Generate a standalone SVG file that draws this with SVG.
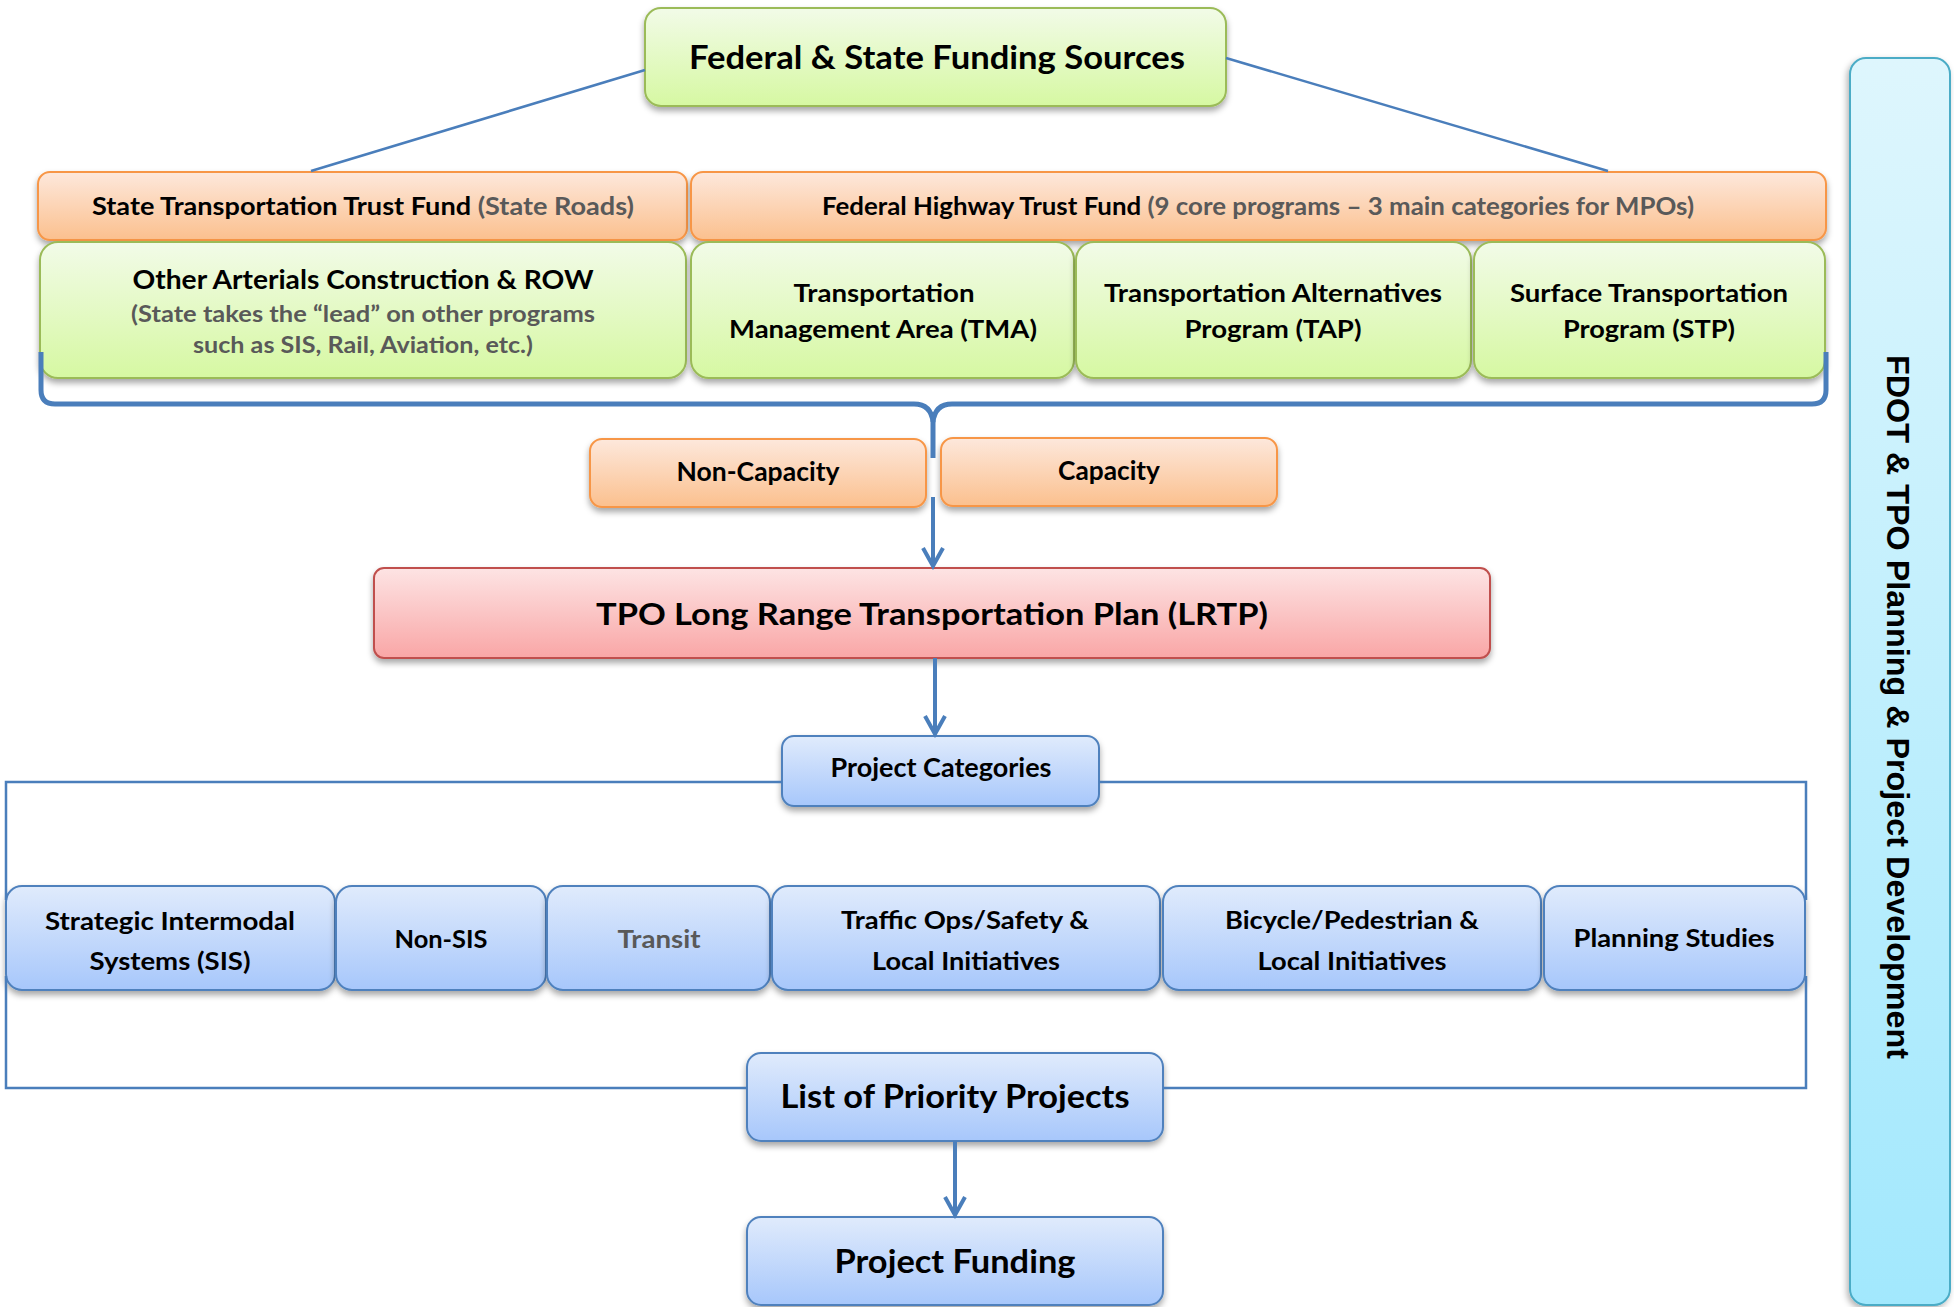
<svg xmlns="http://www.w3.org/2000/svg" width="1954" height="1307" viewBox="0 0 1954 1307">
<defs>
<linearGradient id="gGreen" x1="0" y1="0" x2="0" y2="1"><stop offset="0" stop-color="#f2fbe8"/><stop offset="1" stop-color="#d6f8a2"/></linearGradient>
<linearGradient id="gOrange" x1="0" y1="0" x2="0" y2="1"><stop offset="0" stop-color="#fde8dc"/><stop offset="1" stop-color="#fbc08e"/></linearGradient>
<linearGradient id="gBlue" x1="0" y1="0" x2="0" y2="1"><stop offset="0" stop-color="#e0ebfc"/><stop offset="1" stop-color="#a7c7fb"/></linearGradient>
<linearGradient id="gRed" x1="0" y1="0" x2="0" y2="1"><stop offset="0" stop-color="#fde4e4"/><stop offset="1" stop-color="#f9a6a6"/></linearGradient>
<linearGradient id="gCyan" x1="0" y1="0" x2="0" y2="1"><stop offset="0" stop-color="#def6fd"/><stop offset="1" stop-color="#a2e8fd"/></linearGradient>
<filter id="sh" x="-10%" y="-20%" width="120%" height="150%"><feDropShadow dx="0" dy="4" stdDeviation="3" flood-color="#000" flood-opacity="0.35"/></filter>
<filter id="shs" x="-20%" y="-5%" width="140%" height="110%"><feDropShadow dx="-2" dy="3" stdDeviation="3" flood-color="#000" flood-opacity="0.3"/></filter>
<marker id="ah" markerUnits="userSpaceOnUse" markerWidth="26" markerHeight="26" viewBox="-22 -13 26 26" refX="0" refY="0" orient="auto"><path d="M-18,-10 L0,0 L-18,10" fill="none" stroke="#4a7ebb" stroke-width="4"/></marker>
<style>
.gr{fill:url(#gGreen);stroke:#9bbb59;stroke-width:2}
.or{fill:url(#gOrange);stroke:#f79646;stroke-width:2}
.bl{fill:url(#gBlue);stroke:#4f81bd;stroke-width:2}
.rd{fill:url(#gRed);stroke:#c0504d;stroke-width:2}
.cy{fill:url(#gCyan);stroke:#4bacc6;stroke-width:2}
.t{font-family:Lato,"Open Sans","Liberation Sans",sans-serif;font-weight:bold;fill:#000;text-anchor:middle}
.g{fill:#595959}
.side{font-family:"Liberation Sans",Arial,sans-serif;font-weight:bold;font-size:32px;fill:#000;text-anchor:middle}
.ln{fill:none;stroke:#4a7ebb;stroke-width:2.5}
.br{fill:none;stroke:#4a7ebb;stroke-width:5}
.ar{fill:none;stroke:#4a7ebb;stroke-width:4;marker-end:url(#ah)}
</style>
</defs>
<rect width="1954" height="1307" fill="#fff"/>

<g id="n-sidebar"><rect x="1850" y="58" width="100" height="1247" rx="16" class="cy" filter="url(#shs)"/><text class="side" transform="translate(1887,707) rotate(90)" textLength="704" lengthAdjust="spacingAndGlyphs">FDOT &amp; TPO Planning &amp; Project Development</text></g>

<g id="n-fed"><rect x="645" y="8" width="581" height="98" rx="16" class="gr" filter="url(#sh)"/><text class="t" x="937" y="69" font-size="32" textLength="496" lengthAdjust="spacingAndGlyphs">Federal &amp; State Funding Sources</text></g>

<g id="n-sttf"><rect x="38" y="172" width="649" height="68" rx="12" class="or" filter="url(#sh)"/><text class="t" x="363" y="215" font-size="25" textLength="542" lengthAdjust="spacingAndGlyphs">State Transportation Trust Fund <tspan class="g">(State Roads)</tspan></text></g>

<g id="n-fhtf"><rect x="691" y="172" width="1135" height="68" rx="12" class="or" filter="url(#sh)"/><text class="t" x="1258" y="215" font-size="25" textLength="872" lengthAdjust="spacingAndGlyphs">Federal Highway Trust Fund <tspan class="g">(9 core programs – 3 main categories for MPOs)</tspan></text></g>

<g id="n-other"><rect x="40" y="242" width="646" height="136" rx="18" class="gr" filter="url(#sh)"/><text class="t" x="363" y="289" font-size="27" textLength="461" lengthAdjust="spacingAndGlyphs">Other Arterials Construction &amp; ROW</text><text class="t g" x="363" y="322" font-size="22" textLength="464" lengthAdjust="spacingAndGlyphs">(State takes the “lead” on other programs</text><text class="t g" x="363" y="353" font-size="22" textLength="340" lengthAdjust="spacingAndGlyphs">such as SIS, Rail, Aviation, etc.)</text></g>

<g id="n-tma"><rect x="691" y="242" width="383" height="136" rx="18" class="gr" filter="url(#sh)"/><text class="t" x="884" y="302" font-size="25" textLength="181" lengthAdjust="spacingAndGlyphs">Transportation</text><text class="t" x="883" y="338" font-size="25" textLength="308" lengthAdjust="spacingAndGlyphs">Management Area (TMA)</text></g>

<g id="n-tap"><rect x="1076" y="242" width="395" height="136" rx="18" class="gr" filter="url(#sh)"/><text class="t" x="1273" y="302" font-size="25" textLength="338" lengthAdjust="spacingAndGlyphs">Transportation Alternatives</text><text class="t" x="1273" y="338" font-size="25" textLength="177" lengthAdjust="spacingAndGlyphs">Program (TAP)</text></g>

<g id="n-stp"><rect x="1474" y="242" width="351" height="136" rx="18" class="gr" filter="url(#sh)"/><text class="t" x="1649" y="302" font-size="25" textLength="278" lengthAdjust="spacingAndGlyphs">Surface Transportation</text><text class="t" x="1649" y="338" font-size="25" textLength="172" lengthAdjust="spacingAndGlyphs">Program (STP)</text></g>

<g id="n-noncap"><rect x="590" y="439" width="336" height="68" rx="12" class="or" filter="url(#sh)"/><text class="t" x="758" y="481" font-size="26" textLength="163" lengthAdjust="spacingAndGlyphs">Non-Capacity</text></g>

<g id="n-cap"><rect x="941" y="438" width="336" height="68" rx="12" class="or" filter="url(#sh)"/><text class="t" x="1109" y="480" font-size="26" textLength="102" lengthAdjust="spacingAndGlyphs">Capacity</text></g>

<g id="n-lrtp"><rect x="374" y="568" width="1116" height="90" rx="10" class="rd" filter="url(#sh)"/><text class="t" x="932" y="625" font-size="31" textLength="672" lengthAdjust="spacingAndGlyphs">TPO Long Range Transportation Plan (LRTP)</text></g>

<g id="n-pc"><rect x="782" y="736" width="317" height="70" rx="12" class="bl" filter="url(#sh)"/><text class="t" x="941" y="777" font-size="26" textLength="221" lengthAdjust="spacingAndGlyphs">Project Categories</text></g>

<g id="n-sis"><rect x="6" y="886" width="329" height="104" rx="16" class="bl" filter="url(#sh)"/><text class="t" x="170" y="930" font-size="25" textLength="250" lengthAdjust="spacingAndGlyphs">Strategic Intermodal</text><text class="t" x="170" y="970" font-size="25" textLength="161" lengthAdjust="spacingAndGlyphs">Systems (SIS)</text></g>

<g id="n-nonsis"><rect x="336" y="886" width="210" height="104" rx="16" class="bl" filter="url(#sh)"/><text class="t" x="441" y="948" font-size="25" textLength="93" lengthAdjust="spacingAndGlyphs">Non-SIS</text></g>

<g id="n-transit"><rect x="547" y="886" width="223" height="104" rx="16" class="bl" filter="url(#sh)"/><text class="t g" x="659" y="948" font-size="25" textLength="83" lengthAdjust="spacingAndGlyphs">Transit</text></g>

<g id="n-traffic"><rect x="772" y="886" width="388" height="104" rx="16" class="bl" filter="url(#sh)"/><text class="t" x="965" y="929" font-size="25" textLength="248" lengthAdjust="spacingAndGlyphs">Traffic Ops/Safety &amp;</text><text class="t" x="966" y="970" font-size="25" textLength="188" lengthAdjust="spacingAndGlyphs">Local Initiatives</text></g>

<g id="n-bike"><rect x="1163" y="886" width="378" height="104" rx="16" class="bl" filter="url(#sh)"/><text class="t" x="1352" y="929" font-size="25" textLength="254" lengthAdjust="spacingAndGlyphs">Bicycle/Pedestrian &amp;</text><text class="t" x="1352" y="970" font-size="25" textLength="189" lengthAdjust="spacingAndGlyphs">Local Initiatives</text></g>

<g id="n-planning"><rect x="1544" y="886" width="261" height="104" rx="16" class="bl" filter="url(#sh)"/><text class="t" x="1674" y="947" font-size="25" textLength="201" lengthAdjust="spacingAndGlyphs">Planning Studies</text></g>

<g id="n-lpp"><rect x="747" y="1053" width="416" height="88" rx="14" class="bl" filter="url(#sh)"/><text class="t" x="955" y="1108" font-size="32" textLength="349" lengthAdjust="spacingAndGlyphs">List of Priority Projects</text></g>

<g id="n-funding"><rect x="747" y="1217" width="416" height="88" rx="14" class="bl" filter="url(#sh)"/><text class="t" x="955" y="1273" font-size="32" textLength="241" lengthAdjust="spacingAndGlyphs">Project Funding</text></g>

<g id="connectors">
<path class="ln" d="M645,70 L311,171"/>
<path class="ln" d="M1226,58 L1608,171"/>
<path class="br" d="M41,352 V390 Q41,404 55,404 H914 Q931,404 933,422 V458"/>
<path class="br" d="M1826,352 V390 Q1826,404 1812,404 H952 Q935,404 933,422"/>
<path class="ar" d="M933,497 V566"/>
<path class="ar" d="M935,658 V734"/>
<path class="ar" d="M955,1141 V1215"/>
<path class="ln" d="M782,782 H6 V900 M6,976 V1088 H747"/>
<path class="ln" d="M1099,782 H1806 V900 M1806,976 V1088 H1163"/>
</g>
</svg>
